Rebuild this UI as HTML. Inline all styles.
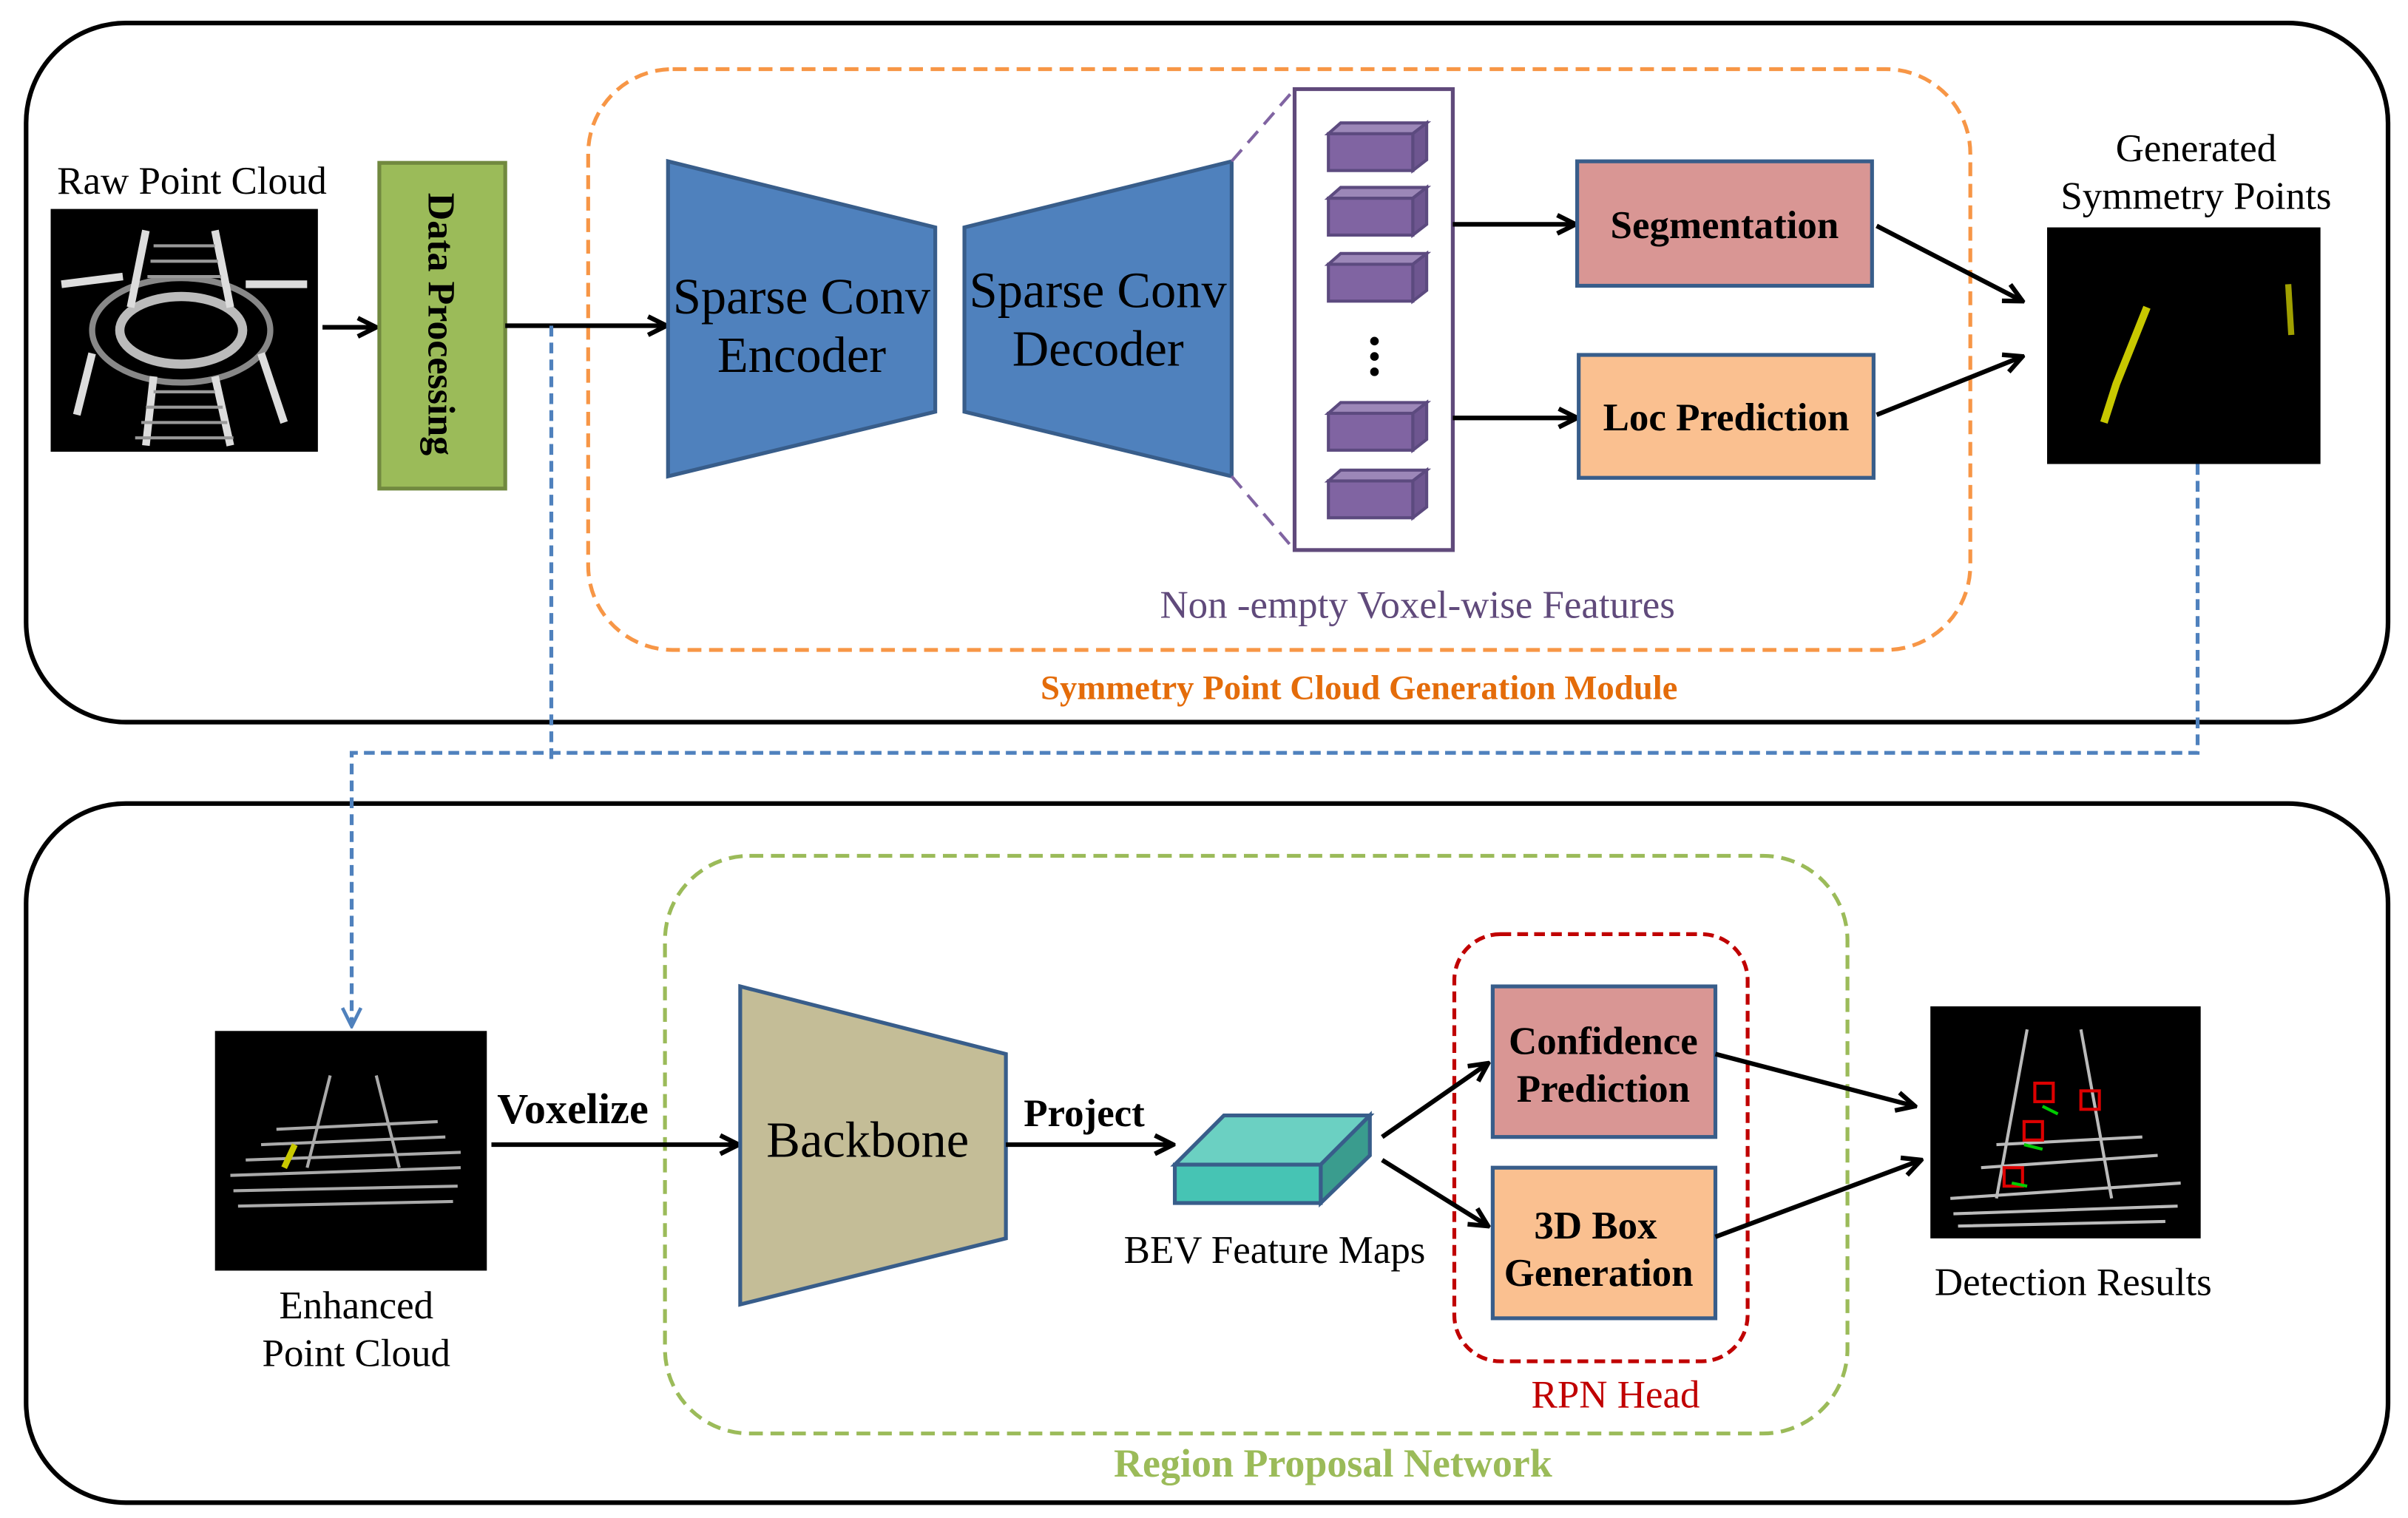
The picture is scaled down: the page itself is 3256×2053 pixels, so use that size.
<!DOCTYPE html>
<html><head><meta charset="utf-8"><style>
html,body{margin:0;padding:0;background:#fff}
svg{display:block}
text{font-family:"Liberation Serif",serif}
</style></head><body>
<svg width="3256" height="2053" viewBox="0 0 1568 988" preserveAspectRatio="none" xmlns="http://www.w3.org/2000/svg">
<defs>
<marker id="a" viewBox="0 0 10 10" refX="9" refY="5" markerWidth="5" markerHeight="5" orient="auto"><path d="M1,1 L9,5 L1,9" fill="none" stroke="#000" stroke-width="2"/></marker>
<marker id="b" viewBox="0 0 10 10" refX="9" refY="5" markerWidth="6" markerHeight="6" orient="auto"><path d="M1,1 L9,5 L1,9" fill="none" stroke="#4F81BD" stroke-width="1.5"/></marker>
</defs>
<rect x="17" y="15" width="1538" height="455" rx="65" fill="none" stroke="#000" stroke-width="3"/>
<rect x="17" y="523" width="1538" height="455" rx="65" fill="none" stroke="#000" stroke-width="3"/>
<rect x="383" y="45" width="900" height="378" rx="55" fill="none" stroke="#F79646" stroke-width="2.5" stroke-dasharray="9,5"/>
<text x="885" y="455" font-size="22.5" font-weight="bold" fill="#E46C0A" text-anchor="middle">Symmetry Point Cloud Generation Module</text>
<text x="125" y="126" font-size="25.5" text-anchor="middle">Raw Point Cloud</text>
<rect x="33" y="136" width="174" height="158" fill="#000"/>
<g stroke="#ddd" fill="none" stroke-width="2">
<ellipse cx="118" cy="215" rx="40" ry="22" stroke-width="6" stroke="#bbb"/>
<ellipse cx="118" cy="215" rx="58" ry="34" stroke="#888" stroke-width="4"/>
<path d="M95,150 L85,200 M140,150 L150,200 M40,185 L80,180 M160,185 L200,185 M60,230 L50,270 M170,230 L185,275 M100,245 L95,290 M140,245 L150,290" stroke-width="5"/>
<path d="M100,160 L140,160 M98,170 L142,170 M96,180 L144,180 M100,255 L140,255 M95,265 L145,265 M92,275 L148,275 M88,285 L152,285" stroke="#999"/>
</g>
<path d="M210,213 L245,213" stroke="#000" stroke-width="3" marker-end="url(#a)"/>
<rect x="247" y="106" width="82" height="212" fill="#9BBB59" stroke="#71893F" stroke-width="2.5"/>
<text transform="translate(279,211) rotate(90)" font-size="25" font-weight="bold" text-anchor="middle">Data Processing</text>
<path d="M329,212 L434,212" stroke="#000" stroke-width="3" marker-end="url(#a)"/>
<polygon points="435,105 609,148 609,268 435,310" fill="#4F81BD" stroke="#385D8A" stroke-width="2.5"/>
<text x="522" y="204" font-size="33" text-anchor="middle">Sparse Conv</text>
<text x="522" y="242" font-size="33" text-anchor="middle">Encoder</text>
<polygon points="628,148 802,105 802,310 628,268" fill="#4F81BD" stroke="#385D8A" stroke-width="2.5"/>
<text x="715" y="200" font-size="33" text-anchor="middle">Sparse Conv</text>
<text x="715" y="238" font-size="33" text-anchor="middle">Decoder</text>
<path d="M802,105 L843,58 M802,310 L843,358" stroke="#8064A2" stroke-width="2" stroke-dasharray="10,6"/>
<rect x="843" y="58" width="103" height="300" fill="#fff" stroke="#604A7B" stroke-width="2.5"/>
<g fill="#8064A2" stroke="#5C4A7F" stroke-width="2">
<g transform="translate(865,80)"><rect x="0" y="7" width="55" height="24"/><polygon points="0,7 8,0 64,0 55,7" fill="#9C87B8"/><polygon points="55,7 64,0 64,24 55,31" fill="#6E5690"/></g>
<g transform="translate(865,122)"><rect x="0" y="7" width="55" height="24"/><polygon points="0,7 8,0 64,0 55,7" fill="#9C87B8"/><polygon points="55,7 64,0 64,24 55,31" fill="#6E5690"/></g>
<g transform="translate(865,165)"><rect x="0" y="7" width="55" height="24"/><polygon points="0,7 8,0 64,0 55,7" fill="#9C87B8"/><polygon points="55,7 64,0 64,24 55,31" fill="#6E5690"/></g>
<g transform="translate(865,262)"><rect x="0" y="7" width="55" height="24"/><polygon points="0,7 8,0 64,0 55,7" fill="#9C87B8"/><polygon points="55,7 64,0 64,24 55,31" fill="#6E5690"/></g>
<g transform="translate(865,306)"><rect x="0" y="7" width="55" height="24"/><polygon points="0,7 8,0 64,0 55,7" fill="#9C87B8"/><polygon points="55,7 64,0 64,24 55,31" fill="#6E5690"/></g>
</g>
<circle cx="895" cy="222" r="2.8" fill="#000"/><circle cx="895" cy="232" r="2.8" fill="#000"/><circle cx="895" cy="242" r="2.8" fill="#000"/>
<text x="923" y="402" font-size="25.5" fill="#604A7B" text-anchor="middle">Non -empty Voxel-wise Features</text>
<path d="M946,146 L1026,146" stroke="#000" stroke-width="3" marker-end="url(#a)"/>
<path d="M946,272 L1027,272" stroke="#000" stroke-width="3" marker-end="url(#a)"/>
<rect x="1027" y="105" width="192" height="81" fill="#D99694" stroke="#385D8A" stroke-width="2.5"/>
<text x="1123" y="155" font-size="25.5" font-weight="bold" text-anchor="middle">Segmentation</text>
<rect x="1028" y="231" width="192" height="80" fill="#FAC090" stroke="#385D8A" stroke-width="2.5"/>
<text x="1124" y="280" font-size="25.5" font-weight="bold" text-anchor="middle">Loc Prediction</text>
<path d="M1222,147 L1317,196" stroke="#000" stroke-width="3" marker-end="url(#a)"/>
<path d="M1222,270 L1317,232" stroke="#000" stroke-width="3" marker-end="url(#a)"/>
<text x="1430" y="105" font-size="25.5" text-anchor="middle">Generated</text>
<text x="1430" y="136" font-size="25.5" text-anchor="middle">Symmetry Points</text>
<rect x="1333" y="148" width="178" height="154" fill="#000"/>
<path d="M1370,275 L1378,250 L1388,225 L1398,200" stroke="#C8C800" stroke-width="5"/>
<path d="M1490,185 L1492,218" stroke="#A0A000" stroke-width="4"/>
<path d="M1431,302 L1431,490 L229,490 L229,668" fill="none" stroke="#4F81BD" stroke-width="2.5" stroke-dasharray="7,4" marker-end="url(#b)"/>
<path d="M359,212 L359,495" stroke="#4F81BD" stroke-width="2.5" stroke-dasharray="7,4"/>
<rect x="433" y="557" width="770" height="376" rx="55" fill="none" stroke="#9BBB59" stroke-width="2.5" stroke-dasharray="9,5"/>
<text x="868" y="961" font-size="26" font-weight="bold" fill="#9BBB59" text-anchor="middle">Region Proposal Network</text>
<rect x="140" y="671" width="177" height="156" fill="#000"/>
<g stroke="#aaa" stroke-width="2" fill="none">
<path d="M150,765 L300,760 M152,775 L298,772 M155,785 L295,782 M160,755 L300,750 M170,745 L290,740 M180,735 L285,730"/>
<path d="M215,700 L200,760 M245,700 L260,760"/>
<path d="M185,760 L192,745" stroke="#C8C800" stroke-width="4"/>
</g>
<text x="232" y="858" font-size="25.5" text-anchor="middle">Enhanced</text>
<text x="232" y="889" font-size="25.5" text-anchor="middle">Point Cloud</text>
<text x="373" y="731" font-size="28" font-weight="bold" text-anchor="middle">Voxelize</text>
<path d="M320,745 L481,745" stroke="#000" stroke-width="3" marker-end="url(#a)"/>
<polygon points="482,642 655,686 655,806 482,849" fill="#C4BD97" stroke="#385D8A" stroke-width="2.5"/>
<text x="565" y="753" font-size="33" text-anchor="middle">Backbone</text>
<text x="706" y="733" font-size="25.5" font-weight="bold" text-anchor="middle">Project</text>
<path d="M655,745 L764,745" stroke="#000" stroke-width="3" marker-end="url(#a)"/>
<g stroke="#385D8A" stroke-width="2.5">
<polygon points="765,758 797,726 892,726 860,758" fill="#6BD0C2"/>
<polygon points="860,758 892,726 892,752 860,783" fill="#3A9C8E"/>
<rect x="765" y="758" width="95" height="25" fill="#46C4B4"/>
</g>
<text x="830" y="822" font-size="25.5" text-anchor="middle">BEV Feature Maps</text>
<rect x="947" y="608" width="191" height="278" rx="30" fill="none" stroke="#C00000" stroke-width="2.5" stroke-dasharray="7,4"/>
<text x="1052" y="916" font-size="25.5" fill="#C00000" text-anchor="middle">RPN Head</text>
<path d="M900,740 L969,692" stroke="#000" stroke-width="3" marker-end="url(#a)"/>
<path d="M900,755 L969,798" stroke="#000" stroke-width="3" marker-end="url(#a)"/>
<rect x="972" y="642" width="145" height="98" fill="#D99694" stroke="#385D8A" stroke-width="2.5"/>
<text x="1044" y="686" font-size="25.5" font-weight="bold" text-anchor="middle">Confidence</text>
<text x="1044" y="717" font-size="25.5" font-weight="bold" text-anchor="middle">Prediction</text>
<rect x="972" y="760" width="145" height="98" fill="#FAC090" stroke="#385D8A" stroke-width="2.5"/>
<text x="1039" y="806" font-size="25.5" font-weight="bold" text-anchor="middle">3D Box</text>
<text x="1041" y="837" font-size="25.5" font-weight="bold" text-anchor="middle">Generation</text>
<path d="M1117,686 L1247,720" stroke="#000" stroke-width="3" marker-end="url(#a)"/>
<path d="M1117,805 L1251,755" stroke="#000" stroke-width="3" marker-end="url(#a)"/>
<rect x="1257" y="655" width="176" height="151" fill="#000"/>
<g stroke="#bbb" stroke-width="2" fill="none">
<path d="M1270,780 L1420,770 M1272,790 L1418,785 M1275,798 L1410,795 M1290,760 L1405,752 M1300,745 L1395,740"/>
<path d="M1320,670 L1300,780 M1355,670 L1375,780"/>
<rect x="1325" y="705" width="12" height="12" stroke="#d00"/><rect x="1355" y="710" width="12" height="12" stroke="#d00"/>
<rect x="1318" y="730" width="12" height="12" stroke="#d00"/><rect x="1305" y="760" width="12" height="12" stroke="#d00"/>
<path d="M1330,720 L1340,725 M1318,745 L1330,748 M1310,770 L1320,772" stroke="#0c0"/>
</g>
<text x="1350" y="843" font-size="25.5" text-anchor="middle">Detection Results</text>
</svg>
</body></html>
